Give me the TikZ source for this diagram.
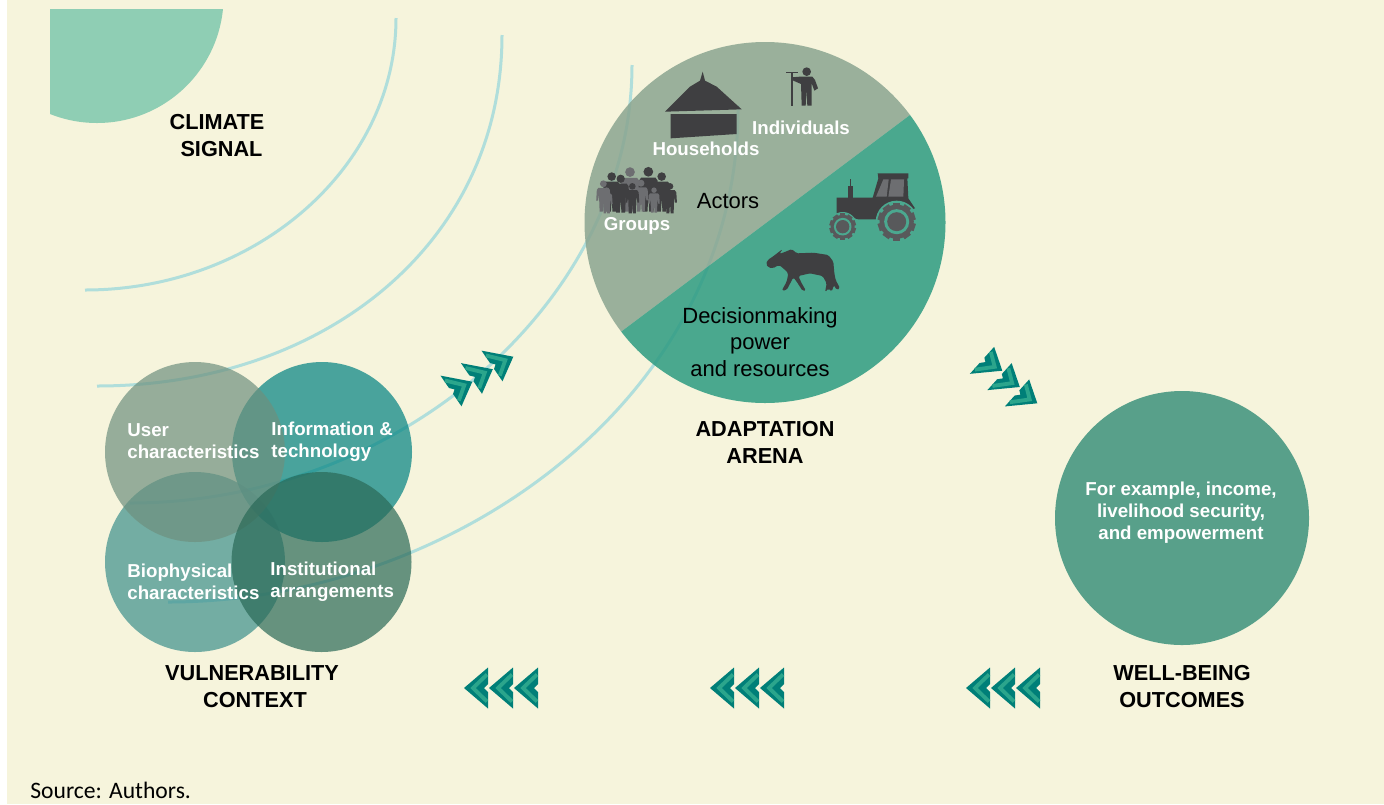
\documentclass[tikz,border=0pt]{standalone}
\usepackage{fontspec}
\setmainfont{Liberation Sans}
\newfontfamily\sourcefont{Carlito}
\definecolor{paper}{HTML}{F6F4DC}
\definecolor{sunc}{HTML}{8FCEB4}
\definecolor{wavec}{HTML}{B0DEDB}
\definecolor{actorc}{HTML}{8AA590}
\definecolor{powerc}{HTML}{2D9B81}
\definecolor{userc}{HTML}{6E907E}
\definecolor{infoc}{HTML}{008281}
\definecolor{bioc}{HTML}{3C8F8C}
\definecolor{instc}{HTML}{2A6957}
\definecolor{wellc}{HTML}{58A08A}
\definecolor{chevdark}{HTML}{007F78}
\definecolor{chevlight}{HTML}{2BA58C}
\definecolor{icondark}{HTML}{3F3F41}
\definecolor{icongray}{HTML}{6D6E71}
\definecolor{wheelc}{HTML}{58595B}
\definecolor{fieldc}{HTML}{4BA88F}
\tikzset{
  wave/.style={color=wavec, line width=1.5pt},
  venn/.style={opacity=.7},
  arena/.style={opacity=.85},
  head/.style={font=\bfseries\fontsize{10.85}{13.5}\selectfont, align=center},
  whitelab/.style={font=\bfseries\fontsize{9.35}{11}\selectfont, text=white},
  blacklab/.style={font=\fontsize{11}{13.25}\selectfont, align=center},
  vennlab/.style={whitelab, align=left, anchor=west, inner sep=0pt},
  upchev/.style={x={(.444pt,.193pt)}, y={(.256pt,-.374pt)}},
  downchev/.style={x={(.423pt,-.216pt)}, y={(-.296pt,-.329pt)}},
  pics/chev/.style={code={
    \fill[chevdark] (0,0)--(-24,-20.5)--(-24,-4)--(-20,0)--(-24,4)--(-24,20.5)--cycle;
    \draw[chevlight, line width=1.9pt] (-23,-13.5)--(-9,0)--(-23,13.5);
  }},
  pics/folk/.style={code={
    \path[pic actions] (0,-9) circle[radius=1.1];
    \path[pic actions] (-1.6,-7.7)--(1.6,-7.7)--(2.1,-7)--(2.3,-3.6)--(1.7,-3.6)--(1.4,-5.5)--(1.2,0)--(.2,0)--(0,-3.5)--(-.2,0)--(-1.2,0)--(-1.4,-5.5)--(-1.7,-3.6)--(-2.3,-3.6)--(-2.1,-7)--cycle;
  }},
  pics/wheel/.style={code={
    \fill[wheelc] (0,0) circle[radius=9];
    \foreach \a in {0,36,...,324}
      \fill[wheelc, rotate=\a] (-2,7) rectangle (2,10);
    \fill[fieldc] (0,0) circle[radius=6.6];
    \fill[wheelc] (0,0) circle[radius=5];
  }},
}

\begin{document}
\begin{tikzpicture}[x=.5pt, y=-.5pt]
\useasboundingbox (0,0) rectangle (1384,804);
\fill[white] (0,0) rectangle (1384,804);
\fill[paper] (7,0) rectangle (1384,804);

\begin{scope}
\clip (50,9) rectangle (240,140);
\fill[sunc] (97,-3.6) circle[radius=126.6];
\end{scope}

\draw[wave] (396,18) .. controls (396,168) and (255,290) .. (85,290);
\draw[wave] (502,35) .. controls (502,245) and (322,386) .. (97,386);
\draw[wave] (632,65) .. controls (632,300) and (400,503) .. (130,503);
\draw[wave] (738,105) .. controls (740,400) and (450,602) .. (168,602);

\begin{scope}
\clip (765,222.5) circle[radius=180.5];
\fill[actorc, arena] (1000,47.5)--(500,422.5)--(500,0)--(1000,0)--cycle;
\fill[powerc, arena] (1000,47.5)--(500,422.5)--(500,450)--(1000,450)--cycle;
\end{scope}

\fill[infoc, venn] (322,452) circle[radius=90];
\fill[bioc, venn] (195,562) circle[radius=90];
\fill[userc, venn] (195,452) circle[radius=90];
\fill[instc, venn] (321.5,562) circle[radius=90];
\fill[wellc] (1182,518) circle[radius=127];

% icons, in the scale of a 3x crop
\begin{scope}[shift={(580,40)}, x=.16667pt, y=-.16667pt]
\fill[icondark] (255,215)--(330,140)--(360,122)--(368,95)--(375,122)--(410,140)--(485,208)--cycle;
\fill[icondark] (272,222)--(470,222)--(470,282)--(272,295)--cycle;

\fill[icondark] (680,95) circle[radius=13];
\fill[icondark] (660,110)--(697,110)--(705,120)--(714,145)--(703,152)--(695,130)--(695,197)--(682,197)--(679,150)--(677,197)--(665,197)--(663,132)--(640,122)--(633,112)--cycle;
\fill[icondark] (618,95) rectangle (654,100);
\fill[icondark] (634,95) rectangle (639,197);

\foreach \fx/\fy/\fh/\fc in {150/515/132/icongray, 95/515/117/icondark, 205/515/133/icondark, 245/515/117/icondark, 70/515/93/icongray, 183/515/95/icongray, 122/518/113/icondark, 157/520/90/icondark, 80/520/77/icongray, 222/518/75/icongray, 270/520/90/icondark}
  \pic[scale=\fh/10, fill=\fc] at (\fx,\fy) {folk};

\fill[icondark] (770,473)--(878,473)--(895,415)--(893,400)--(985,400)--(985,415)--(982,415)--(985,475)--(1005,505)--(950,520)--(895,538)--(835,538)--(770,520)--cycle;
\fill[icongray] (910,418)--(926,418)--(920,470)--(888,470)--cycle;
\fill[icongray] (933,418)--(972,418)--(970,470)--(925,470)--cycle;
\fill[icondark] (805,437) rectangle (819,473);
\fill[icondark] (810,418) rectangle (814,437);
\fill[fieldc] (950,545) circle[radius=63];
\fill[fieldc] (788,560) circle[radius=44];
\pic[scale=5.7] at (950,545) {wheel};
\pic[scale=4] at (788,560) {wheel};

\fill[icondark, rounded corners=.8pt] (558,672)--(563,660)--(578,650)--(608,627)--(598,642)--(622,633)--(635,627)--(650,640)--(700,638)--(745,645)--(760,665)--(763,700)--(767,720)--(780,745)--(770,750)--(762,735)--(755,755)--(745,745)--(735,757)--(740,730)--(728,708)--(690,700)--(655,708)--(665,730)--(678,752)--(668,753)--(650,725)--(640,712)--(620,750)--(605,752)--(620,725)--(625,700)--(610,685)--(597,675)--(578,685)--(565,682)--cycle;
\end{scope}

\foreach \i in {0,1,2} {
  \begin{scope}[shift={({472.3+20.5*\i},{381.7-12.5*\i})}]
  \pic[upchev] {chev};
  \end{scope}
}
\foreach \i in {0,1,2} {
  \begin{scope}[shift={({1002.3+17.5*\i},{370.7+16.3*\i})}]
  \pic[downchev] {chev};
  \end{scope}
}
\foreach \cx in {464,710,966}
  \foreach \i in {0,1,2}
    \pic[rotate=180] at ({\cx+25*\i},688) {chev};

\node[head] (climate) at (217,136) {CLIMATE\\\hspace*{4.5pt}SIGNAL};
\node[head] (arena) at (765,442) {ADAPTATION\\ARENA};
\node[head] (vulner) at (252,687) {VULNERABILITY\\\hspace*{3pt}CONTEXT};
\node[head] (outcomes) at (1182,687) {WELL-BEING\\OUTCOMES};

\node[whitelab] (house) at (706,149) {Households};
\node[whitelab] (indiv) at (801,128) {Individuals};
\node[whitelab] (groups) at (637,226) {Groups};
\node[blacklab] (actors) at (728,201) {Actors};
\node[blacklab] (power) at (760,342) {Decisionmaking\\power\\and resources};

\node[vennlab] (user) at (127,441) {User\\characteristics};
\node[vennlab] (info) at (271,442) {Information \&\\technology};
\node[vennlab] (bio) at (127,582) {Biophysical\\characteristics};
\node[vennlab] (inst) at (270,581.5) {Institutional\\arrangements};
\node[whitelab, align=center] (example) at (1181,513) {For example, income,\\livelihood security,\\and empowerment};

\node[anchor=west, inner sep=0pt, font=\sourcefont\fontsize{11.8}{13}\selectfont] (source) at (30,790) {Source: Authors.};
\end{tikzpicture}
\end{document}
